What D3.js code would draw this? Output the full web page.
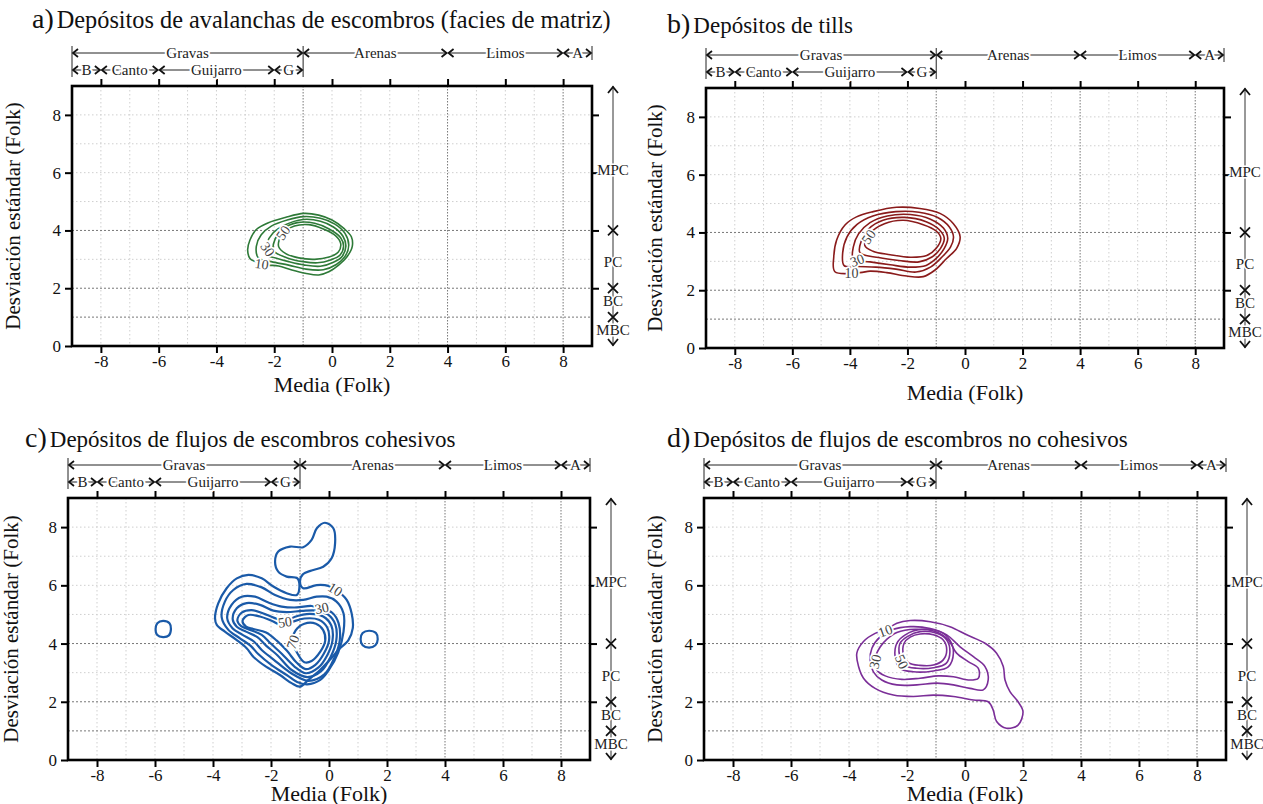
<!DOCTYPE html>
<html>
<head>
<meta charset="utf-8">
<script src="https://cdn.jsdelivr.net/npm/d3@7"></script>
<style>
  body { margin: 0; background: #fff; }
</style>
</head>
<body>
<svg id="chart" width="1263" height="804"></svg>
<script>
// axis ticks (Folk mean in phi, sorting)
const xTicks = [-8, -6, -4, -2, 0, 2, 4, 6, 8];
const yTicks = [0, 2, 4, 6, 8];

// grain size classes along the top
const classNames = ["Gravas", "Arenas", "Limos", "A"];
const classEdges = [-9, -1, 4, 8, 9];
const gravelNames = ["B", "Canto", "Guijarro", "G"];
const gravelEdges = [-9, -8, -6, -2, -1];

// sorting classes along the right side
const sortNames = ["MPC", "PC", "BC", "MBC"];
const sortEdges = [9, 4, 2, 1, 0];
const sortLabelAt = [6.1, 2.9, 1.55, 0.55];

// density contours, [mean, sorting] points per level
const avalanchaRings = [
  {level: 10, pts: [[-2.66,2.92],[-2.84,3.03],[-2.92,3.32],[-2.84,3.67],[-2.61,4.04],[-2.2,4.27],[-1.62,4.45],[-0.98,4.59],[-0.46,4.53],[0.0,4.36],[0.41,4.07],[0.67,3.78],[0.7,3.44],[0.52,3.09],[0.23,2.8],[-0.11,2.57],[-0.46,2.46],[-0.93,2.52],[-1.39,2.63],[-1.85,2.77],[-2.2,2.8],[-2.43,2.84]]},
  {level: 20, pts: [[-2.55,3.05],[-2.62,3.45],[-2.45,3.85],[-2.1,4.15],[-1.55,4.36],[-0.98,4.48],[-0.4,4.42],[0.1,4.22],[0.45,3.9],[0.58,3.5],[0.45,3.1],[0.15,2.82],[-0.3,2.64],[-0.9,2.66],[-1.5,2.8],[-2.1,2.92]]},
  {level: 30, pts: [[-2.25,3.15],[-2.25,3.55],[-2.05,3.9],[-1.65,4.18],[-1.0,4.38],[-0.4,4.32],[0.05,4.12],[0.38,3.8],[0.48,3.45],[0.35,3.1],[0.05,2.9],[-0.4,2.76],[-0.95,2.8],[-1.5,2.92],[-1.95,3.05]]},
  {level: 40, pts: [[-2.02,3.3],[-1.97,3.7],[-1.7,4.05],[-1.2,4.27],[-0.6,4.25],[-0.1,4.05],[0.3,3.75],[0.4,3.45],[0.28,3.15],[-0.05,2.98],[-0.5,2.88],[-1.0,2.92],[-1.55,3.05]]},
  {level: 50, pts: [[-1.85,3.45],[-1.72,3.88],[-1.3,4.15],[-0.8,4.2],[-0.3,4.05],[0.12,3.82],[0.3,3.55],[0.22,3.25],[-0.1,3.08],[-0.6,3.0],[-1.15,3.05],[-1.6,3.2]]}
];
const avalanchaLabels = [[10, -2.43, 2.84, 8], [30, -2.22, 3.35, 55], [50, -1.7, 3.92, -55]];

const tillRings = [
  {level: 10, pts: [[-3.65,2.61],[-4.52,2.64],[-4.56,3.16],[-4.46,3.74],[-4.17,4.26],[-3.77,4.54],[-3.19,4.72],[-2.38,4.87],[-1.57,4.83],[-0.87,4.66],[-0.41,4.31],[-0.17,3.85],[-0.29,3.45],[-0.64,3.1],[-1.04,2.7],[-1.45,2.47],[-2.03,2.49],[-2.72,2.61],[-3.3,2.66]]},
  {level: 20, pts: [[-4.2,2.85],[-4.25,3.3],[-4.1,3.85],[-3.75,4.28],[-3.2,4.57],[-2.4,4.72],[-1.6,4.7],[-0.95,4.52],[-0.55,4.2],[-0.4,3.85],[-0.5,3.5],[-0.8,3.15],[-1.2,2.8],[-1.7,2.63],[-2.4,2.73],[-3.1,2.8],[-3.7,2.82]]},
  {level: 30, pts: [[-3.88,3.08],[-3.88,3.5],[-3.7,3.95],[-3.3,4.34],[-2.7,4.57],[-1.9,4.62],[-1.2,4.46],[-0.75,4.15],[-0.6,3.8],[-0.72,3.45],[-1.0,3.1],[-1.35,2.86],[-1.9,2.8],[-2.6,2.88],[-3.3,2.98]]},
  {level: 40, pts: [[-3.65,3.3],[-3.6,3.72],[-3.35,4.12],[-2.85,4.42],[-2.1,4.52],[-1.35,4.37],[-0.9,4.1],[-0.72,3.8],[-0.85,3.45],[-1.15,3.15],[-1.6,2.98],[-2.3,3.03],[-3.0,3.13]]},
  {level: 50, pts: [[-3.48,3.55],[-3.3,3.97],[-2.8,4.3],[-2.15,4.42],[-1.45,4.27],[-1.0,4.05],[-0.84,3.8],[-1.0,3.45],[-1.33,3.2],[-1.9,3.14],[-2.6,3.23],[-3.2,3.35]]}
];
const tillLabels = [[10, -3.94, 2.58, 0], [30, -3.75, 3.04, -20], [50, -3.35, 3.85, -55]];

const cohesivoRings = [
  {level: 10, pts: [[-3.93,4.87],[-3.82,5.38],[-3.53,5.9],[-3.18,6.24],[-2.78,6.36],[-2.32,6.24],[-1.92,5.96],[-1.46,5.73],[-1.11,5.67],[-1.02,5.96],[-1.09,6.24],[-1.46,6.3],[-1.75,6.47],[-1.86,6.81],[-1.75,7.16],[-1.34,7.33],[-0.89,7.31],[-0.6,7.56],[-0.42,7.96],[-0.14,8.15],[0.15,7.96],[0.21,7.45],[0.09,6.93],[-0.2,6.64],[-0.6,6.51],[-0.89,6.39],[-1.0,6.13],[-0.89,5.9],[-0.42,6.01],[-0.02,5.98],[0.32,5.78],[0.61,5.5],[0.78,5.04],[0.82,4.53],[0.67,4.12],[0.32,3.78],[0.03,3.44],[-0.31,3.09],[-0.71,2.75],[-1.0,2.52],[-1.29,2.64],[-1.69,2.92],[-2.21,3.23],[-2.61,3.55],[-2.84,3.84],[-3.18,4.12],[-3.59,4.41],[-3.87,4.64]]},
  {level: 10, pts: [[-5.72,4.78],[-5.5,4.7],[-5.45,4.5],[-5.52,4.28],[-5.72,4.22],[-5.93,4.3],[-5.98,4.5],[-5.92,4.7]]},
  {level: 10, pts: [[1.38,4.44],[1.62,4.36],[1.68,4.15],[1.6,3.94],[1.38,3.86],[1.16,3.94],[1.09,4.15],[1.16,4.36]]},
  {level: 20, pts: [[-3.7,4.9],[-3.59,5.44],[-3.3,5.84],[-2.84,6.05],[-2.32,5.93],[-1.86,5.67],[-1.34,5.5],[-0.89,5.5],[-0.43,5.61],[-0.08,5.61],[0.26,5.44],[0.5,5.04],[0.5,4.4],[0.32,3.7],[0.0,3.1],[-0.3,2.75],[-0.75,2.6],[-1.1,2.68],[-1.46,2.92],[-1.98,3.26],[-2.44,3.64],[-2.7,3.92],[-3.07,4.18],[-3.47,4.47]]},
  {level: 30, pts: [[-3.51,4.87],[-3.36,5.33],[-3.01,5.61],[-2.55,5.61],[-2.09,5.41],[-1.63,5.27],[-1.11,5.24],[-0.6,5.29],[-0.25,5.2],[0.12,5.05],[0.33,4.7],[0.37,4.1],[0.18,3.5],[-0.15,2.95],[-0.72,2.72],[-1.3,2.98],[-1.92,3.46],[-2.32,3.78],[-2.59,4.07],[-2.98,4.3],[-3.32,4.52]]},
  {level: 40, pts: [[-3.32,4.83],[-3.18,5.21],[-2.84,5.39],[-2.38,5.33],[-1.92,5.13],[-1.46,5.08],[-0.94,5.12],[-0.43,5.13],[-0.04,5.0],[0.22,4.65],[0.25,4.1],[0.06,3.55],[-0.27,3.05],[-0.75,2.85],[-1.3,3.1],[-1.78,3.6],[-2.17,3.93],[-2.47,4.22],[-2.86,4.41],[-3.18,4.58]]},
  {level: 50, pts: [[-3.16,4.79],[-3.01,5.06],[-2.67,5.15],[-2.21,5.01],[-1.8,4.85],[-1.52,4.75],[-1.17,4.92],[-0.66,5.02],[-0.2,4.93],[0.08,4.62],[0.12,4.1],[-0.06,3.6],[-0.37,3.17],[-0.8,2.98],[-1.2,3.22],[-1.63,3.65],[-2.01,4.0],[-2.32,4.3],[-2.72,4.47],[-3.03,4.6]]},
  {level: 60, pts: [[-2.98,4.79],[-2.78,4.98],[-2.38,4.93],[-1.98,4.78],[-1.6,4.62],[-1.25,4.75],[-0.85,4.86],[-0.35,4.82],[-0.06,4.55],[0.0,4.1],[-0.18,3.65],[-0.47,3.27],[-0.8,3.12],[-1.12,3.35],[-1.45,3.75],[-1.8,4.1],[-2.17,4.38],[-2.61,4.5],[-2.86,4.58]]},
  {level: 70, pts: [[-1.25,4.05],[-1.15,4.45],[-0.85,4.68],[-0.45,4.68],[-0.2,4.46],[-0.13,4.1],[-0.3,3.72],[-0.6,3.4],[-0.85,3.36],[-1.08,3.65]]}
];
const cohesivoLabels = [[10, 0.22, 5.86, 32], [30, -0.25, 5.22, -12], [50, -1.52, 4.74, -8], [70, -1.25, 4.05, -70]];

const noCohesivoRings = [
  {level: 10, pts: [[-2.35,4.7],[-2.75,4.46],[-3.1,4.35],[-3.5,4.07],[-3.73,3.67],[-3.67,3.21],[-3.5,2.81],[-3.1,2.46],[-2.47,2.23],[-1.78,2.18],[-1.09,2.23],[-0.4,2.18],[0.29,2.06],[0.8,2.0],[0.97,1.72],[1.09,1.32],[1.43,1.09],[1.83,1.2],[2.0,1.66],[1.83,2.0],[1.55,2.35],[1.38,2.75],[1.32,3.21],[1.09,3.67],[0.69,4.01],[0.06,4.3],[-0.52,4.58],[-1.2,4.75],[-1.89,4.79]]},
  {level: 20, pts: [[-3.21,3.84],[-3.27,3.44],[-3.16,3.03],[-2.87,2.75],[-2.35,2.58],[-1.66,2.58],[-0.97,2.64],[-0.4,2.58],[0.17,2.46],[0.63,2.41],[0.8,2.75],[0.69,3.21],[0.29,3.55],[-0.17,3.89],[-0.63,4.3],[-1.2,4.52],[-1.89,4.58],[-2.52,4.47],[-2.92,4.24]]},
  {level: 30, pts: [[-2.92,3.89],[-3.1,3.49],[-3.04,3.09],[-2.75,2.89],[-2.18,2.77],[-1.55,2.81],[-0.92,2.89],[-0.4,2.86],[0.11,2.75],[0.46,2.81],[0.46,3.15],[0.11,3.38],[-0.29,3.67],[-0.57,4.12],[-1.03,4.41],[-1.72,4.49],[-2.35,4.38],[-2.69,4.15]]},
  {level: 40, pts: [[-2.35,4.01],[-2.41,3.55],[-2.24,3.15],[-1.78,3.03],[-1.09,3.06],[-0.57,3.21],[-0.4,3.67],[-0.52,4.12],[-0.86,4.41],[-1.49,4.49],[-2.06,4.3]]},
  {level: 50, pts: [[-2.24,4.01],[-2.26,3.61],[-2.1,3.26],[-1.66,3.15],[-1.09,3.17],[-0.65,3.32],[-0.52,3.72],[-0.63,4.12],[-0.97,4.35],[-1.55,4.41],[-1.99,4.24]]},
  {level: 60, pts: [[-2.1,4.01],[-2.12,3.61],[-1.95,3.34],[-1.55,3.25],[-1.09,3.26],[-0.75,3.44],[-0.63,3.78],[-0.75,4.12],[-1.09,4.3],[-1.55,4.33],[-1.89,4.22]]}
];
const noCohesivoLabels = [[10, -2.75, 4.44, -20], [30, -3.1, 3.38, -75], [50, -2.18, 3.38, 65]];

const panels = [
  {tag: "a)", title: "Depósitos de avalanchas de escombros (facies de matriz)", rings: avalanchaRings, labels: avalanchaLabels,
   color: "#2e7a38", width: 1.6, box: [72, 86, 592, 346], titleAt: [32, 28], titleSize: 24.3, xNameDy: 46, yNameDx: 52},
  {tag: "b)", title: "Depósitos de tills", rings: tillRings, labels: tillLabels,
   color: "#8a1b1b", width: 1.6, box: [706, 88, 1224, 348], titleAt: [667, 33], titleSize: 23, xNameDy: 52, yNameDx: 44},
  {tag: "c)", title: "Depósitos de flujos de escombros cohesivos", rings: cohesivoRings, labels: cohesivoLabels,
   color: "#1a5aa8", width: 2.2, box: [68, 498, 590, 760], titleAt: [25, 447], titleSize: 23, xNameDy: 41, yNameDx: 50},
  {tag: "d)", title: "Depósitos de flujos de escombros no cohesivos", rings: noCohesivoRings, labels: noCohesivoLabels,
   color: "#7b2e98", width: 1.6, box: [704, 498, 1226, 760], titleAt: [667, 447], titleSize: 23, xNameDy: 41, yNameDx: 42}
];

const FONT = "'Liberation Serif', 'Times New Roman', serif";
const svg = d3.select("#chart");
const serif = sel => sel.style("font-family", FONT);

function arrowHead(g, x0, y0, dir) {
  // dir: 1 = pointing left, -1 = pointing right
  g.append("path")
    .attr("d", `M${x0 + 6 * dir},${y0 - 4}L${x0 + dir},${y0}L${x0 + 6 * dir},${y0 + 4}`)
    .attr("fill", "none").attr("stroke", "#111").attr("stroke-width", 1.8);
}

function bracketRow(g, x, names, edges, yRow) {
  names.forEach((name, i) => {
    const x0 = x(edges[i]), x1 = x(edges[i + 1]);
    g.append("line").attr("x1", x0 + 1).attr("x2", x1 - 1).attr("y1", yRow).attr("y2", yRow)
      .attr("stroke", "#222").attr("stroke-width", 1);
    arrowHead(g, x0, yRow, 1);
    arrowHead(g, x1, yRow, -1);
    g.append("text").attr("x", (x0 + x1) / 2).attr("y", yRow + 5)
      .call(serif)
      .attr("text-anchor", "middle").attr("font-size", 15).attr("fill", "#222")
      .attr("stroke", "#fff").attr("stroke-width", 4).attr("paint-order", "stroke")
      .text(name);
  });
}

panels.forEach(p => {
  const [L, T, R, B] = p.box;
  const g = svg.append("g");
  const x = d3.scaleLinear().domain([-9, 9]).range([L, R]);
  const y = d3.scaleLinear().domain([0, 9]).range([B, T]);

  // grid: light dots every unit, darker at class boundaries
  const xMajor = [-1, 4, 8], yMajor = [1, 2, 4];
  const grid = g.append("g");
  d3.range(-8, 9).forEach(v => {
    const major = xMajor.includes(v);
    grid.append("line").attr("x1", x(v)).attr("x2", x(v)).attr("y1", T).attr("y2", B)
      .attr("stroke", major ? "#777" : "#cfcfcf").attr("stroke-width", 1)
      .attr("stroke-dasharray", major ? "1.5,1.5" : "1.5,2.5");
  });
  d3.range(1, 9).forEach(v => {
    const major = yMajor.includes(v);
    grid.append("line").attr("x1", L).attr("x2", R).attr("y1", y(v)).attr("y2", y(v))
      .attr("stroke", major ? "#777" : "#cfcfcf").attr("stroke-width", 1)
      .attr("stroke-dasharray", major ? "2,2" : "1.5,2.5");
  });

  // contours
  const line = d3.line().x(d => x(d[0])).y(d => y(d[1])).curve(d3.curveCatmullRomClosed.alpha(0.5));
  g.append("g").selectAll("path").data(p.rings).join("path")
    .attr("d", d => line(d.pts))
    .attr("fill", "none").attr("stroke", p.color).attr("stroke-width", p.width)
    .attr("stroke-linejoin", "round");

  g.append("g").selectAll("text").data(p.labels).join("text")
    .attr("transform", d => `translate(${x(d[1])},${y(d[2])}) rotate(${d[3]})`)
    .call(serif)
    .attr("text-anchor", "middle").attr("dy", "0.35em")
    .attr("font-size", 14).attr("fill", "#444")
    .attr("stroke", "#fff").attr("stroke-width", 3.5).attr("paint-order", "stroke")
    .text(d => d[0]);

  // axes
  const fmt = d => String(d);
  const styleAxis = sel => {
    sel.select(".domain").remove();
    sel.selectAll(".tick line").attr("stroke", "#000").attr("stroke-width", 2);
    sel.selectAll(".tick text").call(serif).attr("font-size", 17).attr("fill", "#111");
  };
  g.append("g").attr("transform", `translate(0,${B})`)
    .call(d3.axisBottom(x).tickValues(xTicks).tickFormat(fmt).tickSize(7).tickPadding(2)).call(styleAxis);
  g.append("g").attr("transform", `translate(${L},0)`)
    .call(d3.axisLeft(y).tickValues(yTicks).tickFormat(fmt).tickSize(7).tickPadding(4)).call(styleAxis);
  g.append("g").attr("transform", `translate(0,${T})`)
    .call(d3.axisTop(x).tickValues(xTicks).tickFormat("").tickSize(7)).call(styleAxis);
  g.append("g").attr("transform", `translate(${R},0)`)
    .call(d3.axisRight(y).tickValues([2, 4, 6, 8]).tickFormat("").tickSize(7)).call(styleAxis);

  g.append("rect").attr("x", L).attr("y", T).attr("width", R - L).attr("height", B - T)
    .attr("fill", "none").attr("stroke", "#000").attr("stroke-width", 2.6);

  // grain size classes
  const r1 = T - 33, r2 = T - 16;
  bracketRow(g, x, classNames, classEdges, r1);
  bracketRow(g, x, gravelNames, gravelEdges, r2);
  [-9, -1].forEach(v => {
    g.append("line").attr("x1", x(v)).attr("x2", x(v)).attr("y1", r1 - 7).attr("y2", r2 + 7)
      .attr("stroke", "#222").attr("stroke-width", 1);
  });
  g.append("line").attr("x1", x(9)).attr("x2", x(9)).attr("y1", r1 - 7).attr("y2", r1 + 7)
    .attr("stroke", "#222").attr("stroke-width", 1);

  // sorting classes
  const vx = R + 21;
  g.append("line").attr("x1", vx).attr("x2", vx).attr("y1", y(9)).attr("y2", y(0))
    .attr("stroke", "#333").attr("stroke-width", 1);
  g.append("path").attr("d", `M${vx - 5},${y(9) + 7}L${vx},${y(9) + 1}L${vx + 5},${y(9) + 7}`)
    .attr("fill", "none").attr("stroke", "#111").attr("stroke-width", 1.8);
  g.append("path").attr("d", `M${vx - 5},${y(0) - 7}L${vx},${y(0) - 1}L${vx + 5},${y(0) - 7}`)
    .attr("fill", "none").attr("stroke", "#111").attr("stroke-width", 1.8);
  sortEdges.slice(1, -1).forEach(v => {
    g.append("path").attr("d", `M${vx - 5},${y(v) - 5}L${vx + 5},${y(v) + 5}M${vx - 5},${y(v) + 5}L${vx + 5},${y(v) - 5}`)
      .attr("stroke", "#111").attr("stroke-width", 1.8);
  });
  sortNames.forEach((name, i) => {
    g.append("text").attr("x", vx).attr("y", y(sortLabelAt[i]) + 5)
      .call(serif)
      .attr("text-anchor", "middle").attr("font-size", 15).attr("fill", "#222")
      .attr("stroke", "#fff").attr("stroke-width", 3).attr("paint-order", "stroke")
      .text(name);
  });

  // titles and axis names
  const t = g.append("text").attr("x", p.titleAt[0]).attr("y", p.titleAt[1])
    .call(serif).attr("fill", "#111");
  t.append("tspan").attr("font-size", 28).text(p.tag);
  t.append("tspan").attr("font-size", p.titleSize).attr("dx", 3).text(p.title);

  g.append("text").attr("x", (L + R) / 2).attr("y", B + p.xNameDy)
    .call(serif)
    .attr("text-anchor", "middle").attr("font-size", 22).attr("fill", "#111")
    .text("Media (Folk)");
  g.append("text").attr("transform", `translate(${L - p.yNameDx},${(T + B) / 2}) rotate(-90)`)
    .call(serif)
    .attr("text-anchor", "middle").attr("font-size", 21).attr("fill", "#111")
    .text("Desviación estándar (Folk)");
});
</script>
</body>
</html>
